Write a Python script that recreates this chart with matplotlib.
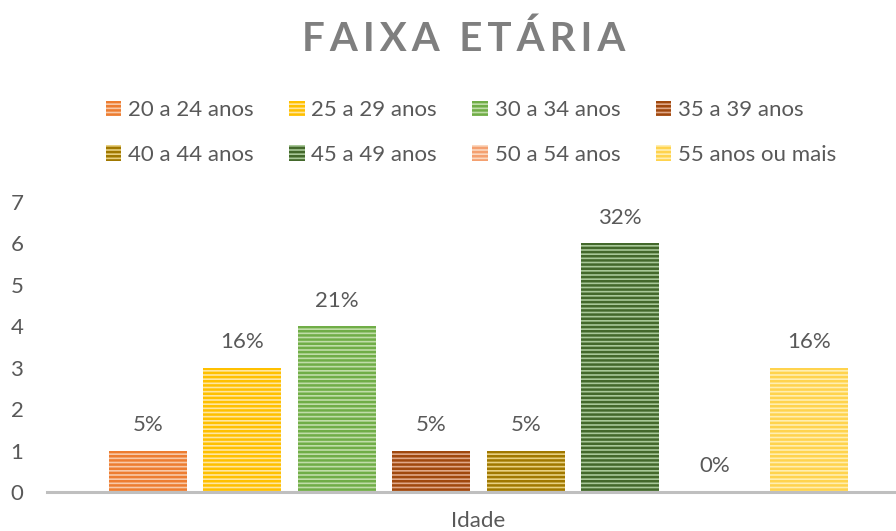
import matplotlib
matplotlib.use("Agg")
import matplotlib.pyplot as plt
from matplotlib.patches import Patch
import numpy as np

plt.rcParams['font.family'] = ['Lato', 'DejaVu Sans']
plt.rcParams['hatch.linewidth'] = 1.8

categories = ["20 a 24 anos", "25 a 29 anos", "30 a 34 anos", "35 a 39 anos",
              "40 a 44 anos", "45 a 49 anos", "50 a 54 anos", "55 anos ou mais"]
values = [1, 3, 4, 1, 1, 6, 0, 3]
pct_labels = ["5%", "16%", "21%", "5%", "5%", "32%", "0%", "16%"]
dark_colors = ["#ED7D31", "#FFC000", "#70AD47", "#A0480E", "#A07800", "#43682B", "#F4A070", "#FFD34D"]
light_colors = ["#F8C9A8", "#FFE6A0", "#C0DDA8", "#E0A888", "#E8D080", "#A8C898", "#FBD8C0", "#FFEEB0"]

TEXT = "#595959"
FS = 16
fig = plt.figure(figsize=(8.96, 5.31), dpi=100)
ax = fig.add_axes([47/896, 39/531, (896-47)/896, 290/531])

x = np.arange(len(categories))
width = 78/94.4
for i in range(len(categories)):
    ax.bar(x[i], values[i], width=width, color=light_colors[i], linewidth=0, zorder=2)
    ax.bar(x[i], values[i], width=width, facecolor="none", edgecolor=dark_colors[i],
           hatch="----", linewidth=0, zorder=3)
    ax.text(x[i], values[i] + 0.38, pct_labels[i], ha="center", va="bottom",
            fontsize=FS, color=TEXT)

ax.set_xlim(-1.071, 7.923)
ax.set_ylim(0, 7)
ax.set_yticks(range(0, 8))
ax.tick_params(axis="y", length=0, labelsize=FS, labelcolor=TEXT, pad=17)
ax.set_xticks([])
for s in ["top", "right", "left"]:
    ax.spines[s].set_visible(False)
ax.spines["bottom"].set_color("#BFBFBF")
ax.spines["bottom"].set_linewidth(2.2)
ax.set_xlabel("Idade", fontsize=FS, color=TEXT)
ax.xaxis.set_label_coords((478.5-47)/(896-47), -0.065)

fig.text(463.5/896, 1-39/531, "F A I X A   E T Á R I A".replace(" ", "\u2009").replace("\u2009\u2009\u2009", "  "),
         ha="center", va="center", fontsize=29, fontweight="bold", color="#7F7F7F")

handles = [Patch(facecolor=light_colors[i], edgecolor=dark_colors[i], hatch="----", linewidth=0)
           for i in range(len(categories))]
order = [0, 4, 1, 5, 2, 6, 3, 7]
leg = fig.legend([handles[i] for i in order], [categories[i] for i in order], ncol=4, loc="center",
                 bbox_to_anchor=(471/896, 1-132.5/531),
                 frameon=False, fontsize=FS, labelcolor=TEXT, handlelength=0.7, handleheight=0.7,
                 handletextpad=0.3, columnspacing=1.6, labelspacing=1.1)

fig.savefig("out.png", dpi=100)
